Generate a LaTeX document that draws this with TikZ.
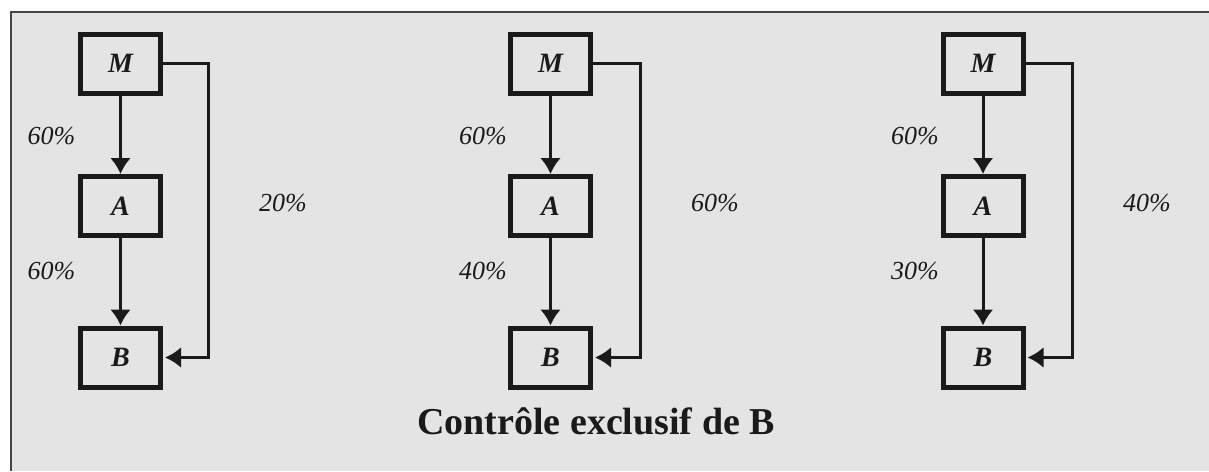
\documentclass[tikz,border=0pt]{standalone}
\usepackage{fontspec}
\setmainfont{Liberation Serif}
\usetikzlibrary{arrows.meta}

\definecolor{panelgray}{HTML}{E4E4E4}
\definecolor{framegray}{HTML}{454545}
\definecolor{inkgray}{HTML}{1A1A1A}

\tikzstyle{entity} = [draw=inkgray, line width=5pt, minimum width=80pt, minimum height=59pt, inner sep=0pt, text=inkgray, font=\fontsize{28}{30}\selectfont\bfseries\itshape]
\tikzstyle{share} = [anchor=base, inner sep=0pt, text=inkgray, font=\fontsize{26}{30}\selectfont\itshape]
\tikzstyle{link} = [->, >={Latex[length=16pt,width=21pt]}, draw=inkgray, line width=3pt]

\begin{document}
\begin{tikzpicture}[x=1pt,y=-1pt]
		\useasboundingbox (0,0) rectangle (1209,471);
		\fill[panelgray] (11,12) rectangle (1209,471);
		\draw[framegray, line width=1.5pt] (11,471) -- (11,12) -- (1209,12);
		% first case
		\node[entity] (m1) at (120.5,63.5) {M};
		\node[entity] (a1) at (120.5,206) {A};
		\node[entity] (b1) at (120.5,357.5) {B};
		\coordinate (r1) at (208,63.5);
		\draw[link] (m1) -- (a1);
		\draw[link] (a1) -- (b1);
		\draw[link, shorten >=2pt] (m1.east) -- (r1) |- (b1.east);
		\node[share] (p1) at (51.5,144) {60\%};
		\node[share] (q1) at (51.5,279) {60\%};
		\node[share] (s1) at (283,211) {20\%};
		% second case
		\node[entity] (m2) at (550.5,63.5) {M};
		\node[entity] (a2) at (550.5,206) {A};
		\node[entity] (b2) at (550.5,357.5) {B};
		\coordinate (r2) at (640,63.5);
		\draw[link] (m2) -- (a2);
		\draw[link] (a2) -- (b2);
		\draw[link, shorten >=2pt] (m2.east) -- (r2) |- (b2.east);
		\node[share] (p2) at (483,144) {60\%};
		\node[share] (q2) at (483,279) {40\%};
		\node[share] (s2) at (715,211) {60\%};
		% third case
		\node[entity] (m3) at (983,63.5) {M};
		\node[entity] (a3) at (983,206) {A};
		\node[entity] (b3) at (983,357.5) {B};
		\coordinate (r3) at (1072,63.5);
		\draw[link] (m3) -- (a3);
		\draw[link] (a3) -- (b3);
		\draw[link, shorten >=2pt] (m3.east) -- (r3) |- (b3.east);
		\node[share] (p3) at (915,144) {60\%};
		\node[share] (q3) at (915,279) {30\%};
		\node[share] (s3) at (1147,211) {40\%};
		\node[anchor=base, inner sep=0pt, text=inkgray, font=\fontsize{38}{44}\selectfont\bfseries] (title) at (596,434) {Contrôle exclusif de B};
\end{tikzpicture}
\end{document}
